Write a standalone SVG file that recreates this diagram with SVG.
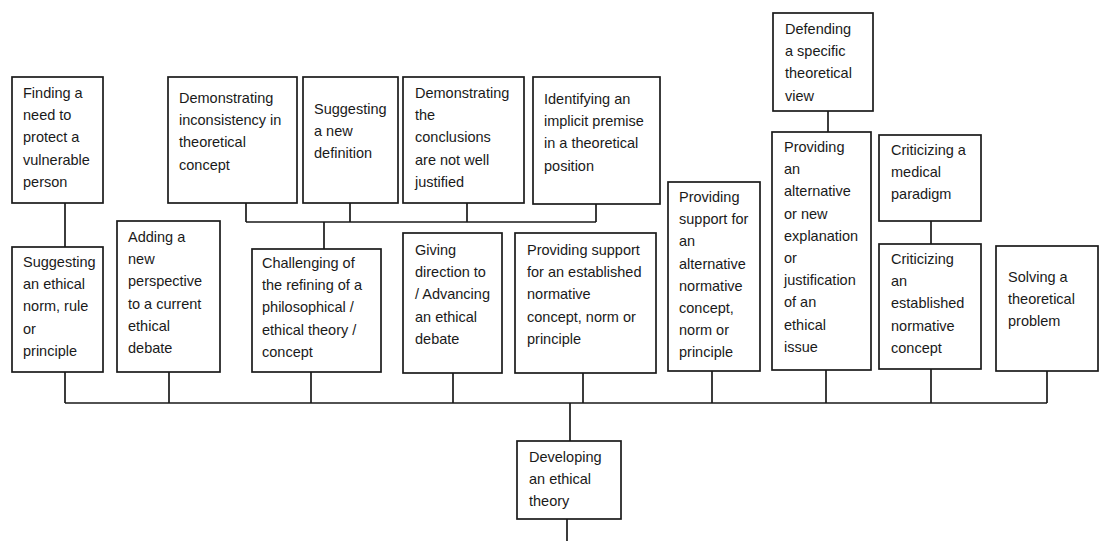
<svg xmlns="http://www.w3.org/2000/svg" width="1101" height="541" viewBox="0 0 1101 541">
<style>
.box{fill:#fff;stroke:#1a1a1a;stroke-width:1.7}
.t{font-family:"Liberation Sans",Arial,sans-serif;font-size:14.5px;fill:#1a1a1a}
.c{fill:none;stroke:#1a1a1a;stroke-width:1.7}
</style>
<rect width="1101" height="541" fill="#fff"/>
<g id="connectors">
<path class="c" d="M65 203V247"/>
<path class="c" d="M246 203V222M350 203V222M467 203V222M596 204V222M246 222H596M324 222V249"/>
<path class="c" d="M828 111V132"/>
<path class="c" d="M931 221V244"/>
<path class="c" d="M65 372V403M169 372V403M311 372V403M453 373V403M583 373V403M712 371V403M826 370V403M931 369V403M1047 371V403M65 403H1047M570 403V441M567 519V541"/>
</g>
<g id="finding"><rect class="box" x="12" y="77" width="91" height="126"/><text class="t" x="23" y="98"><tspan x="23">Finding a</tspan><tspan x="23" dy="22.2">need to</tspan><tspan x="23" dy="22.2">protect a</tspan><tspan x="23" dy="22.2">vulnerable</tspan><tspan x="23" dy="22.2">person</tspan></text></g>
<g id="suggest-norm"><rect class="box" x="12" y="247" width="91" height="125"/><text class="t" x="23" y="267"><tspan x="23">Suggesting</tspan><tspan x="23" dy="22.2">an ethical</tspan><tspan x="23" dy="22.2">norm, rule</tspan><tspan x="23" dy="22.2">or</tspan><tspan x="23" dy="22.2">principle</tspan></text></g>
<g id="adding"><rect class="box" x="117" y="221" width="103" height="151"/><text class="t" x="128" y="242"><tspan x="128">Adding a</tspan><tspan x="128" dy="22.2">new</tspan><tspan x="128" dy="22.2">perspective</tspan><tspan x="128" dy="22.2">to a current</tspan><tspan x="128" dy="22.2">ethical</tspan><tspan x="128" dy="22.2">debate</tspan></text></g>
<g id="demo-inconsistency"><rect class="box" x="168" y="77" width="129" height="126"/><text class="t" x="179" y="103"><tspan x="179">Demonstrating</tspan><tspan x="179" dy="22.2">inconsistency in</tspan><tspan x="179" dy="22.2">theoretical</tspan><tspan x="179" dy="22.2">concept</tspan></text></g>
<g id="suggest-def"><rect class="box" x="303" y="77" width="95" height="126"/><text class="t" x="314" y="114"><tspan x="314">Suggesting</tspan><tspan x="314" dy="22.2">a new</tspan><tspan x="314" dy="22.2">definition</tspan></text></g>
<g id="demo-conclusions"><rect class="box" x="403" y="77" width="121" height="126"/><text class="t" x="415" y="98"><tspan x="415">Demonstrating</tspan><tspan x="415" dy="22.2">the</tspan><tspan x="415" dy="22.2">conclusions</tspan><tspan x="415" dy="22.2">are not well</tspan><tspan x="415" dy="22.2">justified</tspan></text></g>
<g id="identifying"><rect class="box" x="533" y="77" width="127" height="127"/><text class="t" x="544" y="104"><tspan x="544">Identifying an</tspan><tspan x="544" dy="22.2">implicit premise</tspan><tspan x="544" dy="22.2">in a theoretical</tspan><tspan x="544" dy="22.2">position</tspan></text></g>
<g id="challenging"><rect class="box" x="252" y="249" width="129" height="123"/><text class="t" x="262" y="268"><tspan x="262">Challenging of</tspan><tspan x="262" dy="22.2">the refining of a</tspan><tspan x="262" dy="22.2">philosophical /</tspan><tspan x="262" dy="22.2">ethical theory /</tspan><tspan x="262" dy="22.2">concept</tspan></text></g>
<g id="giving"><rect class="box" x="403" y="233" width="99" height="140"/><text class="t" x="415" y="255"><tspan x="415">Giving</tspan><tspan x="415" dy="22.2">direction to</tspan><tspan x="415" dy="22.2">/ Advancing</tspan><tspan x="415" dy="22.2">an ethical</tspan><tspan x="415" dy="22.2">debate</tspan></text></g>
<g id="support-established"><rect class="box" x="515" y="233" width="141" height="140"/><text class="t" x="527" y="255"><tspan x="527">Providing support</tspan><tspan x="527" dy="22.2">for an established</tspan><tspan x="527" dy="22.2">normative</tspan><tspan x="527" dy="22.2">concept, norm or</tspan><tspan x="527" dy="22.2">principle</tspan></text></g>
<g id="support-alternative"><rect class="box" x="668" y="182" width="92" height="189"/><text class="t" x="679" y="202"><tspan x="679">Providing</tspan><tspan x="679" dy="22.2">support for</tspan><tspan x="679" dy="22.2">an</tspan><tspan x="679" dy="22.2">alternative</tspan><tspan x="679" dy="22.2">normative</tspan><tspan x="679" dy="22.2">concept,</tspan><tspan x="679" dy="22.2">norm or</tspan><tspan x="679" dy="22.2">principle</tspan></text></g>
<g id="defending"><rect class="box" x="773" y="13" width="100" height="98"/><text class="t" x="785" y="34"><tspan x="785">Defending</tspan><tspan x="785" dy="22.2">a specific</tspan><tspan x="785" dy="22.2">theoretical</tspan><tspan x="785" dy="22.2">view</tspan></text></g>
<g id="alternative-explanation"><rect class="box" x="772" y="132" width="99" height="238"/><text class="t" x="784" y="152"><tspan x="784">Providing</tspan><tspan x="784" dy="22.2">an</tspan><tspan x="784" dy="22.2">alternative</tspan><tspan x="784" dy="22.2">or new</tspan><tspan x="784" dy="22.2">explanation</tspan><tspan x="784" dy="22.2">or</tspan><tspan x="784" dy="22.2">justification</tspan><tspan x="784" dy="22.2">of an</tspan><tspan x="784" dy="22.2">ethical</tspan><tspan x="784" dy="22.2">issue</tspan></text></g>
<g id="criticizing-medical"><rect class="box" x="879" y="135" width="102" height="86"/><text class="t" x="891" y="155"><tspan x="891">Criticizing a</tspan><tspan x="891" dy="22.2">medical</tspan><tspan x="891" dy="22.2">paradigm</tspan></text></g>
<g id="criticizing-established"><rect class="box" x="879" y="244" width="102" height="125"/><text class="t" x="891" y="264"><tspan x="891">Criticizing</tspan><tspan x="891" dy="22.2">an</tspan><tspan x="891" dy="22.2">established</tspan><tspan x="891" dy="22.2">normative</tspan><tspan x="891" dy="22.2">concept</tspan></text></g>
<g id="solving"><rect class="box" x="996" y="246" width="102" height="125"/><text class="t" x="1008" y="282"><tspan x="1008">Solving a</tspan><tspan x="1008" dy="22.2">theoretical</tspan><tspan x="1008" dy="22.2">problem</tspan></text></g>
<g id="developing"><rect class="box" x="517" y="441" width="104" height="78"/><text class="t" x="529" y="462"><tspan x="529">Developing</tspan><tspan x="529" dy="22.2">an ethical</tspan><tspan x="529" dy="22.2">theory</tspan></text></g>
</svg>
